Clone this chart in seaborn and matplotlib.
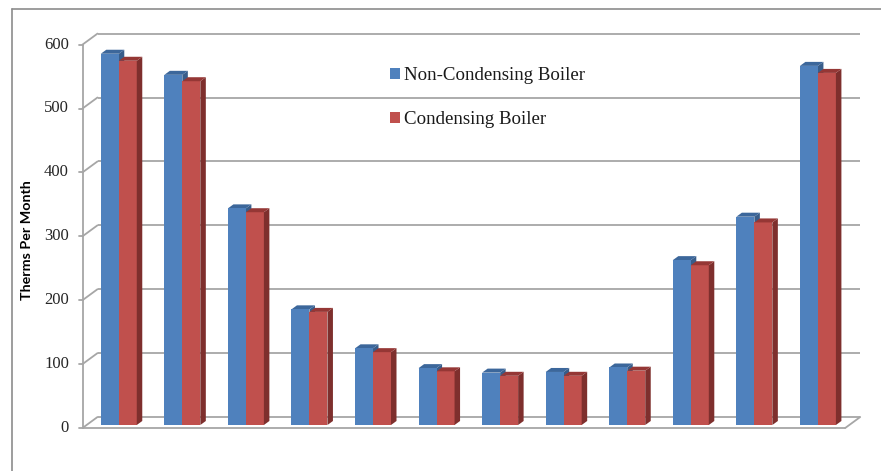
import matplotlib
matplotlib.use("Agg")
import matplotlib.pyplot as plt
from matplotlib.patches import Polygon, Rectangle
from matplotlib.lines import Line2D
import numpy as np
import pandas as pd
import seaborn as sns

# Monthly gas use (therms), Jan..Dec
months = ["Jan", "Feb", "Mar", "Apr", "May", "Jun",
          "Jul", "Aug", "Sep", "Oct", "Nov", "Dec"]
non_condensing = [581, 548, 339, 181, 120, 89, 82, 83, 90, 258, 326, 562]
condensing = [570, 538, 333, 177, 114, 84, 77, 77, 85, 250, 317, 551]
series_names = ["Non-Condensing Boiler", "Condensing Boiler"]
y_ticks = [0, 100, 200, 300, 400, 500, 600]

df = pd.DataFrame({
    "month": months * 2,
    "therms": non_condensing + condensing,
    "series": [series_names[0]] * len(months) + [series_names[1]] * len(months),
})

W, H = 881, 471
fig = plt.figure(figsize=(W / 100, H / 100), dpi=100)
sns.set_style("white")

face_cols = ["#4F81BD", "#C0504D"]
side_cols = ["#385D8A", "#7E2F2D"]
top_cols = ["#3C679B", "#953735"]
grid_col = "#a6a6a6"

# bar plane of the pseudo-3D box, in pixels
L_px, R_px = 87.0, 849.7
B_px, T_px = 425.0, 425.0 - 383.4
ax = fig.add_axes([L_px / W, (H - B_px) / H, (R_px - L_px) / W, (B_px - T_px) / H])

sns.barplot(data=df, x="month", y="therms", hue="series", order=months,
            hue_order=series_names, palette=face_cols, saturation=1,
            width=0.566, ax=ax, legend=False, linewidth=0)
ax.set_xlim(-0.5, 11.5)
ax.set_ylim(0, 600)
ax.axis("off")

# pixel -> data conversions for the depth offsets
px_x = (R_px - L_px) / 12.0
px_y = (B_px - T_px) / 600.0


def off(dx_px, dy_px):
    return dx_px / px_x, dy_px / px_y


# bar depth (to the right and upwards)
ddx, ddy = off(5.5, 4.0)
for p in ax.patches:
    x0 = p.get_x()
    w = p.get_width()
    h = p.get_height()
    is_red = np.allclose(p.get_facecolor()[:3], matplotlib.colors.to_rgb(face_cols[1]), atol=0.02)
    k = 1 if is_red else 0
    z = 1.1 if is_red else 0.9
    x1 = x0 + w
    side = Polygon([(x1, 0), (x1 + ddx, ddy), (x1 + ddx, h + ddy), (x1, h)],
                   closed=True, facecolor=side_cols[k], edgecolor="none",
                   zorder=z, clip_on=False)
    top = Polygon([(x0, h), (x0 + ddx, h + ddy), (x1 + ddx, h + ddy), (x1, h)],
                  closed=True, facecolor=top_cols[k], edgecolor="none",
                  zorder=z, clip_on=False)
    ax.add_patch(side)
    ax.add_patch(top)

# back wall and left wall / floor
bdx, bdy = off(10.5, 8.0)     # back wall relative to bar plane
fdx, fdy = off(-4.5, -3.0)    # front edge relative to bar plane
x_left, x_right = -0.5, 11.5
lw = 1.3
for t in y_ticks:
    ax.plot([x_left + bdx, x_right + bdx], [t + bdy, t + bdy], color=grid_col,
            lw=lw, zorder=0.5, clip_on=False, solid_capstyle="butt")
    ax.plot([x_left + fdx, x_left + bdx], [t + fdy, t + bdy], color=grid_col,
            lw=lw, zorder=0.5, clip_on=False)
    ax.plot([x_left + fdx - 4.0 / px_x, x_left + fdx], [t + fdy, t + fdy],
            color=grid_col, lw=lw, zorder=0.5, clip_on=False)
    ax.text(x_left + fdx - 13.5 / px_x, t + fdy, str(t), ha="right", va="center",
            fontsize=12, family="Liberation Serif", color="#262626")
# front vertical axis
ax.plot([x_left + fdx, x_left + fdx], [fdy, 600 + fdy], color=grid_col, lw=lw,
        zorder=0.5, clip_on=False)
# floor front edge and right edge
ax.plot([x_left + fdx, x_right + fdx], [fdy, fdy], color=grid_col, lw=lw,
        zorder=0.5, clip_on=False)
ax.plot([x_right + fdx, x_right + bdx], [fdy, bdy], color=grid_col, lw=lw,
        zorder=0.5, clip_on=False)

# axis title
fig.text(27 / W, 1 - 240 / H, "Therms Per Month", rotation=90, ha="center",
         va="center", fontsize=10.3, fontweight="bold", family="Lato", color="#000000")

# legend
handles = [Rectangle((0, 0), 1, 1, facecolor=c, edgecolor="none") for c in face_cols]
leg = fig.legend(handles, series_names, loc="upper left",
                 bbox_to_anchor=(373 / W, 1 - 50 / H), frameon=False,
                 handlelength=0.55, handleheight=0.55, handletextpad=0.2,
                 labelspacing=1.45, prop={"family": "Liberation Serif", "size": 13.6})
for txt in leg.get_texts():
    txt.set_color("#1a1a1a")

# chart border (top and left only within the image)
fig.add_artist(Line2D([12 / W, 1.0], [1 - 8.5 / H, 1 - 8.5 / H], color="#8c8c8c",
                      lw=1.2, transform=fig.transFigure))
fig.add_artist(Line2D([12 / W, 12 / W], [0, 1 - 8.5 / H], color="#8c8c8c",
                      lw=1.2, transform=fig.transFigure))

fig.savefig("out.png", dpi=100)
